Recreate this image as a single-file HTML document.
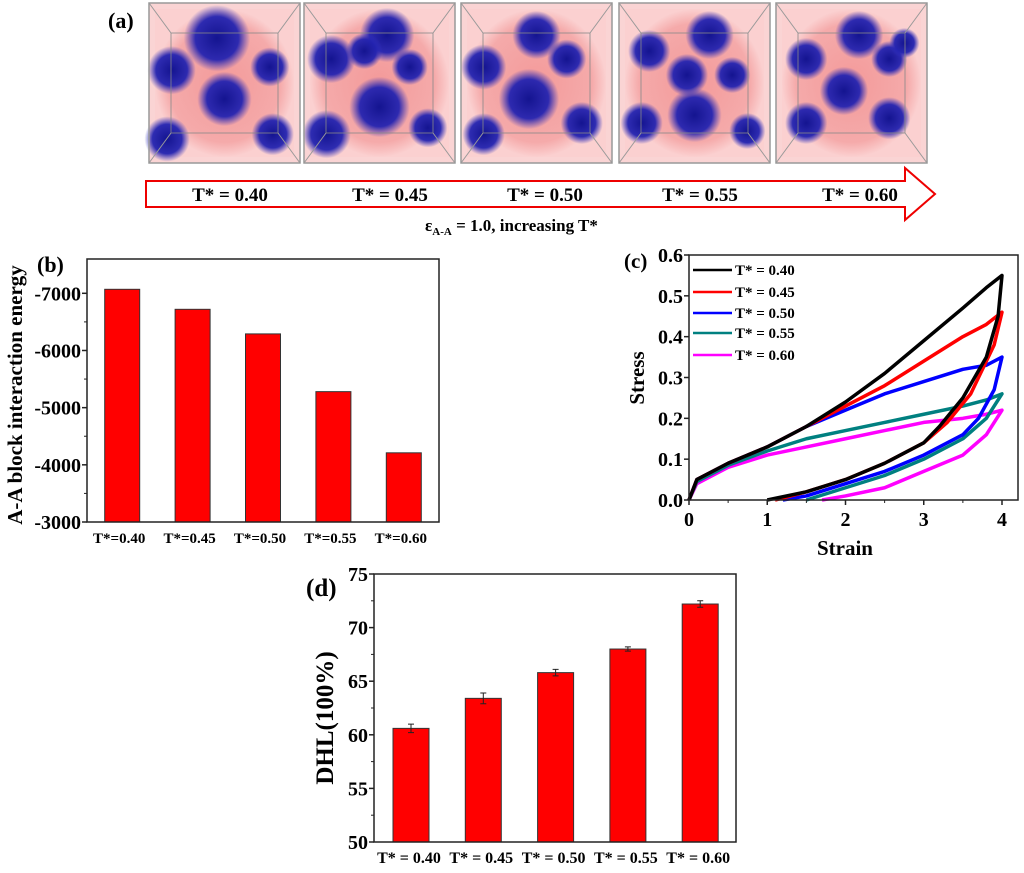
<!DOCTYPE html>
<html><head><meta charset="utf-8">
<style>
body{margin:0;background:#fff;}
svg{display:block;font-family:"Liberation Serif",serif;font-weight:bold;}
</style></head>
<body>
<svg id="fig" width="1024" height="873" viewBox="0 0 1024 873">
<defs>
<radialGradient id="pinkbg"><stop offset="0" stop-color="#f39a9a"/><stop offset="0.8" stop-color="#f5aaaa"/><stop offset="1" stop-color="#fbd0d0"/></radialGradient>
<radialGradient id="blob"><stop offset="0" stop-color="#141490"/><stop offset="0.65" stop-color="#2323b0" stop-opacity="0.95"/><stop offset="1" stop-color="#3030c0" stop-opacity="0"/></radialGradient>
</defs>
<g id="panelA">
<text x="108" y="28" font-size="22">(a)</text>
</g>
<g id="panelB"></g>
<g id="panelC"></g>
<g id="panelD"></g>
</svg>
<script>
const NS="http://www.w3.org/2000/svg";
function mk(parent,tag,attrs,text){const e=document.createElementNS(NS,tag);for(const k in attrs)e.setAttribute(k,attrs[k]);if(text!==undefined)e.textContent=text;parent.appendChild(e);return e;}

// ---------- Panel (a) ----------
const snapTemps=["T* = 0.40","T* = 0.45","T* = 0.50","T* = 0.55","T* = 0.60"];
const boxX=[149,304,461,619,776];
const blobSets=[
 [[0.45,0.22,0.22],[0.15,0.42,0.16],[0.5,0.6,0.18],[0.8,0.4,0.13],[0.12,0.85,0.15],[0.82,0.82,0.14]],
 [[0.55,0.2,0.18],[0.18,0.35,0.16],[0.4,0.3,0.12],[0.7,0.4,0.12],[0.5,0.65,0.2],[0.15,0.82,0.16],[0.82,0.78,0.13]],
 [[0.5,0.2,0.16],[0.15,0.4,0.15],[0.7,0.35,0.13],[0.45,0.6,0.2],[0.8,0.75,0.14],[0.15,0.82,0.14]],
 [[0.6,0.2,0.16],[0.2,0.3,0.14],[0.45,0.45,0.14],[0.75,0.45,0.12],[0.5,0.7,0.18],[0.15,0.75,0.14],[0.85,0.8,0.12]],
 [[0.55,0.2,0.16],[0.2,0.35,0.14],[0.75,0.35,0.12],[0.45,0.55,0.16],[0.2,0.75,0.14],[0.75,0.72,0.14],[0.85,0.25,0.1]]
];
const gA=document.getElementById('panelA');
boxX.forEach((x,i)=>{
 const g=mk(gA,'g',{});
 
 
 const w=151,h=160,y=3;
 mk(g,'rect',{x:x,y:y,width:w,height:h,fill:'#fad4d4'});
 mk(g,'rect',{x:x+6,y:y+6,width:w-12,height:h-12,fill:'url(#pinkbg)'});
 blobSets[i].forEach(b=>{mk(g,'circle',{cx:x+b[0]*w,cy:y+b[1]*h,r:b[2]*w,fill:'url(#blob)'});});
 mk(g,'rect',{x:x+22,y:y+30,width:w-44,height:h-60,fill:'none',stroke:'#888','stroke-width':0.8});
 mk(g,'line',{x1:x,y1:y,x2:x+22,y2:y+30,stroke:'#999'});
 mk(g,'line',{x1:x+w,y1:y,x2:x+w-22,y2:y+30,stroke:'#999'});
 mk(g,'line',{x1:x,y1:y+h,x2:x+22,y2:y+h-30,stroke:'#999'});
 mk(g,'line',{x1:x+w,y1:y+h,x2:x+w-22,y2:y+h-30,stroke:'#999'});
 mk(g,'rect',{x:x,y:y,width:w,height:h,fill:'none',stroke:'#999','stroke-width':1.5});
});
const arrow=mk(gA,'path',{d:'M146,181 L905,181 L905,168 L935,194 L905,220 L905,207 L146,207 Z',fill:'#fff',stroke:'#e00','stroke-width':2});


const tempLabelX=[230,390,545,700,860];
snapTemps.forEach((t,i)=>{
 const e=mk(gA,'text',{x:tempLabelX[i],y:201,'font-size':19,'text-anchor':'middle'},t);
 
 
});
const sub=mk(gA,'text',{x:425,y:231,'font-size':17},'');


sub.innerHTML='ε<tspan font-size="11" dy="4">A-A</tspan><tspan dy="-4"> = 1.0,  increasing  T*</tspan>';

// ---------- Panel (b) ----------
const bCats=["T*=0.40","T*=0.45","T*=0.50","T*=0.55","T*=0.60"];
const bVals=[-7070,-6720,-6290,-5280,-4210];
const bTicks=[-7000,-6000,-5000,-4000,-3000];
(function(){
 const g=document.getElementById('panelB');
 const L=87,T=259,R=439,B=522, yMin=-3000,yMax=-7600;
 const ys=v=>B-(v-yMin)/(yMax-yMin)*(B-T);
 const xs=i=>L+(i+0.5)*(R-L)/bCats.length;
 bVals.forEach((v,i)=>{
  const r=mk(g,'rect',{x:xs(i)-17.5,y:ys(v),width:35,height:B-ys(v),fill:'#ff0000',stroke:'#333','stroke-width':1});
  
  
 });
 mk(g,'rect',{x:L,y:T,width:R-L,height:B-T,fill:'none',stroke:'#222','stroke-width':1.5});
 bTicks.forEach(t=>{
  mk(g,'line',{x1:L,y1:ys(t),x2:L-5,y2:ys(t),stroke:'#222','stroke-width':1.5});
  const e=mk(g,'text',{x:L-6,y:ys(t)+7,'font-size':20,'text-anchor':'end'},String(t));
  
  
 });
 for(let k=0;k<bTicks.length-1;k++){const m=(bTicks[k]+bTicks[k+1])/2;mk(g,'line',{x1:L,y1:ys(m),x2:L-3,y2:ys(m),stroke:'#222'});}
 bCats.forEach((c,i)=>{
  const e=mk(g,'text',{x:xs(i)-3,y:543,'font-size':15,'text-anchor':'middle'},c);
  
  
 });
 const yt=mk(g,'text',{x:0,y:0,'font-size':21,'text-anchor':'middle',transform:'translate(22,395) rotate(-90)'},'A-A block interaction energy');
 
 
 const lb=mk(g,'text',{x:37,y:272,'font-size':22},'(b)');
 
 
})();

// ---------- Panel (c) ----------
const cNames=["T* = 0.40","T* = 0.45","T* = 0.50","T* = 0.55","T* = 0.60"];
const cColors=["#000000","#ff0000","#0000ff","#008080","#ff00ff"];
const loadStrain=[0,0.1,0.5,1,1.5,2,2.5,3,3.5,3.8,4];
const load040=[0,0.05,0.09,0.13,0.18,0.24,0.31,0.39,0.47,0.52,0.55];
const load045=[0,0.05,0.09,0.13,0.18,0.23,0.28,0.34,0.40,0.43,0.46];
const load050=[0,0.05,0.09,0.13,0.18,0.22,0.26,0.29,0.32,0.33,0.35];
const load055=[0,0.045,0.085,0.12,0.15,0.17,0.19,0.21,0.23,0.245,0.26];
const load060=[0,0.04,0.08,0.11,0.13,0.15,0.17,0.19,0.20,0.21,0.22];
const unloadStrain040=[4,3.95,3.8,3.5,3.2,3,2.5,2,1.5,1.0];
const unload040=[0.55,0.45,0.35,0.25,0.18,0.14,0.09,0.05,0.02,0];
const unloadStrain045=[4,3.9,3.6,3.3,3,2.5,2,1.5,1.1];
const unload045=[0.46,0.38,0.26,0.19,0.14,0.09,0.05,0.02,0];
const unloadStrain050=[4,3.9,3.7,3.5,3,2.5,2,1.5,1.2];
const unload050=[0.35,0.27,0.2,0.16,0.11,0.07,0.04,0.01,0];
const unloadStrain055=[4,3.8,3.5,3,2.5,2,1.5];
const unload055=[0.26,0.2,0.15,0.1,0.06,0.03,0];
const unloadStrain060=[4,3.8,3.5,3,2.5,2,1.7];
const unload060=[0.22,0.16,0.11,0.07,0.03,0.01,0];
const cXTicks=[0,1,2,3,4];
const cYTicks=[0,0.1,0.2,0.3,0.4,0.5,0.6];
(function(){
 const g=document.getElementById('panelC');
 const L=689,T=255,R=1018,B=500;
 const xs=v=>L+v/4*(1002-L);
 const ys=v=>B-v/0.6*(B-T);
 const series=[[load040,unloadStrain040,unload040],[load045,unloadStrain045,unload045],[load050,unloadStrain050,unload050],[load055,unloadStrain055,unload055],[load060,unloadStrain060,unload060]];
 series.slice().reverse().forEach((s,ri)=>{
  const i=series.length-1-ri;
  let pts=loadStrain.map((x,k)=>xs(x)+','+ys(s[0][k]));
  pts=pts.concat(s[1].map((x,k)=>xs(x)+','+ys(s[2][k])));
  const p=mk(g,'polyline',{points:pts.join(' '),fill:'none',stroke:cColors[i],'stroke-width':3.5,'stroke-linejoin':'round'});
  
  
 });
 mk(g,'rect',{x:L,y:T,width:R-L,height:B-T,fill:'none',stroke:'#222','stroke-width':1.5});
 cXTicks.forEach(t=>{
  mk(g,'line',{x1:xs(t),y1:B,x2:xs(t),y2:B+5,stroke:'#222','stroke-width':1.5});
  const e=mk(g,'text',{x:xs(t),y:B+26,'font-size':20,'text-anchor':'middle'},String(t));
  
  
  if(t<4)mk(g,'line',{x1:xs(t+0.5),y1:B,x2:xs(t+0.5),y2:B+3,stroke:'#222'});
 });
 cYTicks.forEach(t=>{
  mk(g,'line',{x1:L,y1:ys(t),x2:L-5,y2:ys(t),stroke:'#222','stroke-width':1.5});
  const e=mk(g,'text',{x:L-6,y:ys(t)+7,'font-size':20,'text-anchor':'end'},t.toFixed(1));
  
  
 });
 const legY=[270,292,313,333,355];
 cNames.forEach((n,i)=>{
  const l=mk(g,'line',{x1:693,y1:legY[i],x2:732,y2:legY[i],stroke:cColors[i],'stroke-width':2.5});
  
  
  const e=mk(g,'text',{x:735,y:legY[i]+5,'font-size':15},n);
  
  
 });
 const xt=mk(g,'text',{x:845,y:555,'font-size':21,'text-anchor':'middle'},'Strain');
 
 
 const yt=mk(g,'text',{x:0,y:0,'font-size':21,'text-anchor':'middle',transform:'translate(644,378) rotate(-90)'},'Stress');
 
 
 const lb=mk(g,'text',{x:624,y:268,'font-size':21},'(c)');
 
 
})();

// ---------- Panel (d) ----------
const dCats=["T* = 0.40","T* = 0.45","T* = 0.50","T* = 0.55","T* = 0.60"];
const dVals=[60.6,63.4,65.8,68.0,72.2];
const dErr=[0.4,0.5,0.3,0.2,0.3];
const dTicks=[50,55,60,65,70,75];
(function(){
 const g=document.getElementById('panelD');
 const L=374,T=574,R=736,B=842;
 const ys=v=>B-(v-50)/25*(B-T);
 const xs=i=>411+i*72.3;
 dVals.forEach((v,i)=>{
  const r=mk(g,'rect',{x:xs(i)-18,y:ys(v),width:36,height:B-ys(v),fill:'#ff0000',stroke:'#333','stroke-width':1});
  
  
  const eb=mk(g,'path',{d:`M${xs(i)-3},${ys(v+dErr[i])}H${xs(i)+3}M${xs(i)},${ys(v+dErr[i])}V${ys(v-dErr[i])}M${xs(i)-3},${ys(v-dErr[i])}H${xs(i)+3}`,stroke:'#222','stroke-width':1,fill:'none'});
  
  
 });
 mk(g,'rect',{x:L,y:T,width:R-L,height:B-T,fill:'none',stroke:'#222','stroke-width':1.5});
 dTicks.forEach(t=>{
  mk(g,'line',{x1:L,y1:ys(t),x2:L-5,y2:ys(t),stroke:'#222','stroke-width':1.5});
  const e=mk(g,'text',{x:L-6,y:ys(t)+7,'font-size':20,'text-anchor':'end'},String(t));
  
  
  if(t<75)mk(g,'line',{x1:L,y1:ys(t+2.5),x2:L-3,y2:ys(t+2.5),stroke:'#222'});
 });
 dCats.forEach((c,i)=>{
  const e=mk(g,'text',{x:xs(i)-2,y:863,'font-size':16,'text-anchor':'middle'},c);
  
  
 });
 const yt=mk(g,'text',{x:0,y:0,'font-size':25,'text-anchor':'middle',transform:'translate(333,718) rotate(-90)'},'DHL(100%)');
 
 
 const lb=mk(g,'text',{x:306,y:596,'font-size':25},'(d)');
 
 
})();
</script>
</body></html>
